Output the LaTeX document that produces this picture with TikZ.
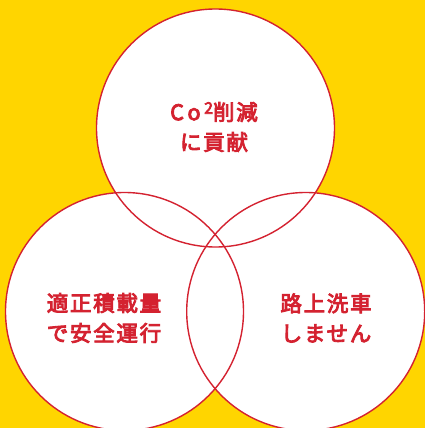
\documentclass[tikz,border=0pt]{standalone}
\usepackage{fontspec}
\newfontfamily\cjk[LetterSpace=8,FakeBold=4]{Noto Sans CJK JP}
\definecolor{bgyellow}{RGB}{255,213,0}
\definecolor{vennred}{RGB}{212,34,48}

\begin{document}
\begin{tikzpicture}[x=1pt,y=-1pt,
    venn/.style={circle,minimum size=238pt,inner sep=0pt},
    label/.style={text=vennred,align=center,font=\cjk\fontsize{21.5}{30}\selectfont}]
	% Fondo
	\fill[bgyellow] (0,0) rectangle (425,428);
	\clip (0,0) rectangle (425,428);
	\useasboundingbox (0,0) rectangle (425,428);
	
	% Círculos
	\node[venn,fill=white] (co2) at (215.5,128) {};
	\node[venn,fill=white] (load) at (124.5,311.5) {};
	\node[venn,fill=white] (wash) at (305.7,311.5) {};
	\foreach \c in {co2,load,wash}
		\draw[vennred,line width=1.4pt] (\c.center) circle (119pt);
	
	% Textos
	\node[label] (t1) at (214,127) {C\,o\,\raisebox{0.55ex}{\fontsize{16}{16}\selectfont 2}削減\\に貢献};
	\node[label] (t2) at (104,318) {適正積載量\\で安全運行};
	\node[label] (t3) at (326,318) {路上洗車\\しません};
\end{tikzpicture}
\end{document}
